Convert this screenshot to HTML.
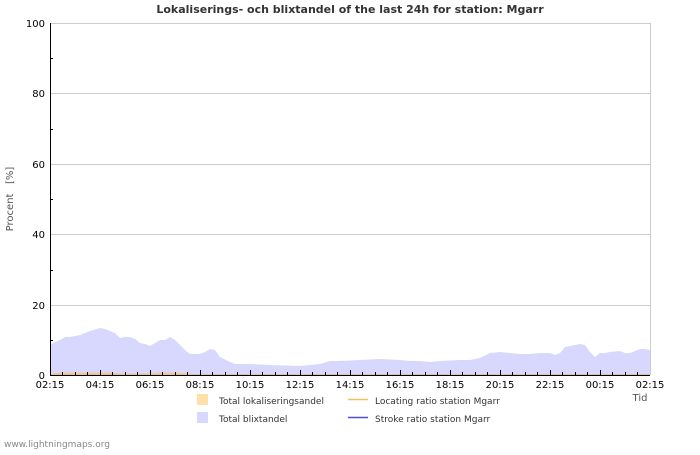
<!DOCTYPE html><html><head><style>body{margin:0;background:#fff}svg{font-family:"DejaVu Sans","Liberation Sans",sans-serif}</style></head><body>
<svg width="700" height="450" xmlns="http://www.w3.org/2000/svg">
<rect width="700" height="450" fill="#fff"/>
<text x="350" y="13" font-size="11" font-weight="bold" fill="#333" text-anchor="middle">Lokaliserings- och blixtandel of the last 24h for station: Mgarr</text>
<g stroke="#ccc" stroke-width="1">
<line x1="50" y1="23.5" x2="650" y2="23.5"/><line x1="50" y1="93.5" x2="650" y2="93.5"/><line x1="50" y1="164.5" x2="650" y2="164.5"/><line x1="50" y1="234.5" x2="650" y2="234.5"/><line x1="50" y1="305.5" x2="650" y2="305.5"/>
<line x1="650.5" y1="23" x2="650.5" y2="375"/>
</g>
<polygon fill="#d8d8ff" points="50,345 55,342 60,340 65,337 70,337 75,336 80,335 85,333 90,331 100,328 105,329 110,331 115,333 120,338 125,337 130,337 135,339 140,343 145,344 150,346 155,343 160,340 165,340 170,337 175,340 180,345 185,350 190,354 200,354 205,352 210,349 215,350 220,357 230,362 235,364 250,364 270,365 300,366 310,365 320,364 330,361 340,361 360,360 380,359 400,360 410,361 420,361 430,362 440,361 460,360 470,360 480,358 490,353 500,352 510,353 520,354 530,354 540,353 550,353 555,355 560,353 565,347 570,346 580,344 585,345 590,352 595,357 600,353 605,353 610,352 620,351 625,353 630,353 640,349 645,349 650,350 650,375 50,375"/>
<polygon fill="#f0c8a0" points="50,374 60,372.5 110,372.5 120,373.5 150,373.5 160,372.5 180,372.5 190,374 650,374 650,375 50,375"/>
<line x1="50" y1="374.5" x2="650" y2="374.5" stroke="#e8c090" stroke-width="1"/>
<g stroke="#000" stroke-width="1">
<line x1="50.5" y1="23" x2="50.5" y2="376"/><line x1="50" y1="375.5" x2="650" y2="375.5"/>
<line x1="50" y1="340.5" x2="53" y2="340.5"/><line x1="50" y1="270.5" x2="53" y2="270.5"/><line x1="50" y1="199.5" x2="53" y2="199.5"/><line x1="50" y1="129.5" x2="53" y2="129.5"/><line x1="50" y1="58.5" x2="53" y2="58.5"/>
<path d="M62.5,372v3M75.5,372v3M87.5,372v3M112.5,372v3M125.5,372v3M137.5,372v3M162.5,372v3M175.5,372v3M187.5,372v3M212.5,372v3M225.5,372v3M237.5,372v3M262.5,372v3M275.5,372v3M287.5,372v3M312.5,372v3M325.5,372v3M337.5,372v3M362.5,372v3M375.5,372v3M387.5,372v3M412.5,372v3M425.5,372v3M437.5,372v3M462.5,372v3M475.5,372v3M487.5,372v3M512.5,372v3M525.5,372v3M537.5,372v3M562.5,372v3M575.5,372v3M587.5,372v3M612.5,372v3M625.5,372v3M637.5,372v3"/>
<path d="M100.5,370v5M150.5,370v5M200.5,370v5M250.5,370v5M300.5,370v5M350.5,370v5M400.5,370v5M450.5,370v5M500.5,370v5M550.5,370v5M600.5,370v5"/>
</g>
<g font-size="10" fill="#000" text-anchor="end">
<text x="45" y="27">100</text><text x="45" y="97">80</text><text x="45" y="168">60</text><text x="45" y="238">40</text><text x="45" y="309">20</text><text x="45" y="379">0</text>
</g>
<g font-size="10" fill="#000" text-anchor="middle">
<text x="50" y="388">02:15</text><text x="100" y="388">04:15</text><text x="150" y="388">06:15</text><text x="200" y="388">08:15</text><text x="250" y="388">10:15</text><text x="300" y="388">12:15</text><text x="350" y="388">14:15</text><text x="400" y="388">16:15</text><text x="450" y="388">18:15</text><text x="500" y="388">20:15</text><text x="550" y="388">22:15</text><text x="600" y="388">00:15</text><text x="650" y="388">02:15</text>
</g>
<text x="640" y="401" font-size="10" fill="#555" text-anchor="middle">Tid</text>
<text transform="translate(13,199) rotate(-90)" font-size="10" fill="#555" text-anchor="middle">Procent&#160;&#160;&#160;[%]</text>
<rect x="197" y="394" width="11" height="11" fill="#ffe0a8"/>
<text x="219" y="404" font-size="9" fill="#333">Total lokaliseringsandel</text>
<rect x="197" y="412" width="11" height="11" fill="#d8d8ff"/>
<text x="219" y="422" font-size="9" fill="#333">Total blixtandel</text>
<line x1="348" y1="399.5" x2="368" y2="399.5" stroke="#f0c060" stroke-width="1.5"/>
<text x="375" y="404" font-size="9" fill="#333">Locating ratio station Mgarr</text>
<line x1="348" y1="417.5" x2="368" y2="417.5" stroke="#5050d0" stroke-width="1.5"/>
<text x="375" y="422" font-size="9" fill="#333">Stroke ratio station Mgarr</text>
<text x="4" y="447" font-size="9" fill="#888">www.lightningmaps.org</text>
</svg></body></html>
